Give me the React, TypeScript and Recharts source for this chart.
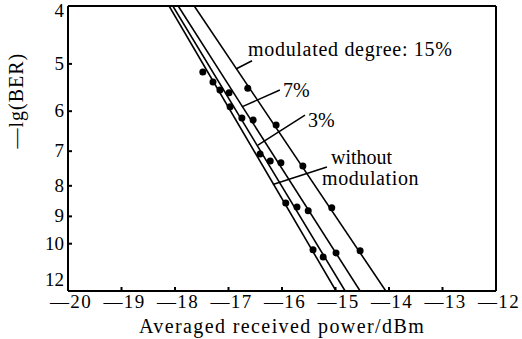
import React from 'react'
import { ComposedChart, Line, Scatter, XAxis, YAxis, ReferenceLine } from 'recharts'

// line end points (at -lg(BER) = 4 and 12)
const endY = [4, 12]
const withoutEnds = [-18.11, -14.99]
const deg3Ends = [-18.04, -14.82]
const deg7Ends = [-17.94, -14.54]
const deg15Ends = [-17.64, -14.06]

// measured points
const withoutX = [-17.48, -17.16, -16.97, -16.41, -15.93, -15.42]
const withoutY = [5.16, 5.53, 5.9, 7.08, 8.55, 10.24]
const deg3X = [-17.29, -16.75, -16.22, -15.72, -15.23]
const deg3Y = [5.36, 6.16, 7.27, 8.68, 10.53]
const deg7X = [-16.99, -16.54, -16.02, -15.51, -14.99]
const deg7Y = [5.59, 6.21, 7.32, 8.81, 10.36]
const deg15X = [-16.64, -16.11, -15.61, -15.07, -14.54]
const deg15Y = [5.49, 6.33, 7.41, 8.71, 10.28]

const xTicks = [-20, -19, -18, -17, -16, -15, -14, -13, -12]
const yTicks = [4, 5, 6, 7, 8, 9, 10, 12]

const pts = (xs: number[], ys: number[]) => xs.map((x, i) => ({ x, y: ys[i] }))

const font = "'Liberation Serif', 'Times New Roman', serif"

const Dot = (props: any) => {
  const { cx, cy } = props
  if (cx == null || cy == null) return null
  return <circle cx={cx} cy={cy} r={3.5} fill="#000" />
}

const XTick = (props: any) => {
  const { x, y, payload } = props
  return (
    <text x={x + 3} y={y + 13} textAnchor="middle" style={{ fontFamily: font }} fontSize={19} fill="#000" letterSpacing={1.4}>
      {'\u2014' + Math.abs(payload.value)}
    </text>
  )
}

const YTick = (props: any) => {
  const { x, y, payload } = props
  const dy = payload.value === 12 ? -5 : payload.value === 4 ? 11 : 6
  return (
    <text x={x} y={y + dy} textAnchor="end" style={{ fontFamily: font }} fontSize={19} fill="#000">
      {payload.value}
    </text>
  )
}

// leader lines from labels to curves, in data units
const leaders = [
  [[-16.56, 4.94], [-16.86, 5.1]],
  [[-16.04, 5.53], [-16.75, 5.9]],
  [[-15.57, 6.09], [-16.45, 6.84]],
  [[-15.16, 7.44], [-16.17, 7.96]],
]

const series = [
  { ends: withoutEnds, xs: withoutX, ys: withoutY },
  { ends: deg3Ends, xs: deg3X, ys: deg3Y },
  { ends: deg7Ends, xs: deg7X, ys: deg7Y },
  { ends: deg15Ends, xs: deg15X, ys: deg15Y },
]

export default function App() {
  return (
    <div style={{ position: 'absolute', left: 0, top: 0, width: 522, height: 339, background: '#fff' }}>
      <ComposedChart width={522} height={339} margin={{ top: 6, right: 26, left: 0, bottom: 0 }}>
        <XAxis
          type="number"
          dataKey="x"
          domain={[-20, -12]}
          ticks={xTicks}
          interval={0}
          allowDataOverflow
          height={48}
          stroke="#000"
          strokeWidth={2}
          tickSize={-4}
          tickMargin={8}
          tick={<XTick />}
          label={{ value: 'Averaged received power/dBm', position: 'insideBottom', offset: 6, style: { fontFamily: font }, fontSize: 20, fill: '#000', letterSpacing: 1.4 }}
        />
        <YAxis
          type="number"
          dataKey="y"
          scale="log"
          domain={[4, 12]}
          ticks={yTicks}
          interval={0}
          reversed
          allowDataOverflow
          width={68}
          stroke="#000"
          strokeWidth={2}
          tickSize={-4}
          tickMargin={8}
          tick={<YTick />}
          label={{ value: '\u2014lg(BER)', angle: -90, position: 'insideLeft', offset: 16, style: { fontFamily: font }, fontSize: 20, fill: '#000', letterSpacing: 1 }}
        />
        <ReferenceLine x={-12} stroke="#000" strokeWidth={2} />
        <ReferenceLine y={4} stroke="#000" strokeWidth={2} />
        {leaders.map((seg, i) => (
          <ReferenceLine
            key={'l' + i}
            segment={[{ x: seg[0][0], y: seg[0][1] }, { x: seg[1][0], y: seg[1][1] }]}
            stroke="#000"
            strokeWidth={1.5}
          />
        ))}
        {series.map((s, i) => (
          <Line
            key={'ln' + i}
            data={pts(s.ends, endY)}
            dataKey="y"
            stroke="#000"
            strokeWidth={1.6}
            dot={false}
            isAnimationActive={false}
          />
        ))}
        {series.map((s, i) => (
          <Scatter key={'sc' + i} data={pts(s.xs, s.ys)} dataKey="y" shape={<Dot />} isAnimationActive={false} />
        ))}
      </ComposedChart>
      <svg width={522} height={339} style={{ position: 'absolute', left: 0, top: 0, pointerEvents: 'none' }}>
        <g style={{ fontFamily: font }} fontSize={20} fill="#000">
          <text x={248} y={56} letterSpacing={0.7}>modulated degree: 15%</text>
          <text x={283} y={97}>7%</text>
          <text x={308} y={127}>3%</text>
          <text x={331} y={164}>without</text>
          <text x={322} y={185} letterSpacing={0.6}>modulation</text>
        </g>
      </svg>
    </div>
  )
}
